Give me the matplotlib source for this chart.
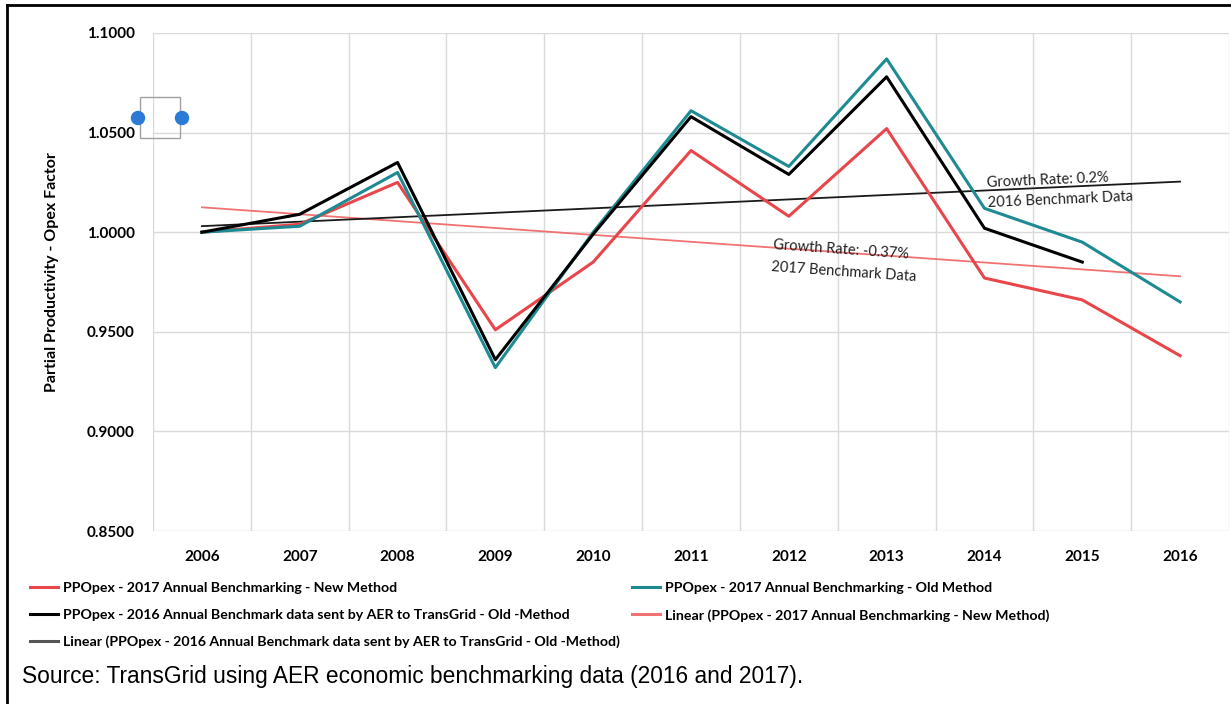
import numpy as np
import matplotlib.pyplot as plt
from matplotlib.lines import Line2D
from matplotlib.patches import Rectangle, Ellipse

plt.rcParams['font.family'] = ['Lato', 'DejaVu Sans']

years = ['2006', '2007', '2008', '2009', '2010', '2011', '2012', '2013', '2014', '2015', '2016']
new_2017 = [1.000, 1.004, 1.025, 0.951, 0.985, 1.041, 1.008, 1.052, 0.977, 0.966, 0.938]
old_2017 = [1.000, 1.003, 1.030, 0.932, 1.000, 1.061, 1.033, 1.087, 1.012, 0.995, 0.965]
old_2016 = [1.000, 1.009, 1.035, 0.936, 0.999, 1.058, 1.029, 1.078, 1.002, 0.985]

lbl_new = 'PPOpex - 2017 Annual Benchmarking - New Method'
lbl_old = 'PPOpex - 2017 Annual Benchmarking - Old Method'
lbl_2016 = 'PPOpex - 2016 Annual Benchmark data sent by AER to TransGrid - Old -Method'
lbl_lin_new = 'Linear (PPOpex - 2017 Annual Benchmarking - New Method)'
lbl_lin_2016 = 'Linear (PPOpex - 2016 Annual Benchmark data sent by AER to TransGrid - Old -Method)'

RED = '#E8464A'
TEAL = '#1E8A92'
LRED = '#F07272'

W, H = 1231, 704
fig = plt.figure(figsize=(W / 100, H / 100), dpi=100)
ax = fig.add_axes([153 / W, 1 - 531 / H, (1229 - 153) / W, (531 - 33) / H])

x = np.arange(len(years))
x16 = np.arange(len(old_2016))

# excel style linear trendlines (2016 one forecast forward to 2016)
p_new = np.polyfit(x, new_2017, 1)
p_16 = np.polyfit(x16, old_2016, 1)
ax.plot(x, np.polyval(p_new, x), color=LRED, lw=1.3, zorder=3)
ax.plot(x, np.polyval(p_16, x), color='#1a1a1a', lw=1.3, zorder=3)

ax.plot(x, new_2017, color=RED, lw=2.2, zorder=4)
ax.plot(x, old_2017, color=TEAL, lw=2.2, zorder=4)
ax.plot(x16, old_2016, color='black', lw=2.2, zorder=5)

ax.set_xlim(-0.5, len(years) - 0.5)
ax.set_ylim(0.85, 1.10)
ax.set_yticks(np.arange(0.85, 1.1001, 0.05))
ax.set_yticklabels(['%.4f' % v for v in np.arange(0.85, 1.1001, 0.05)],
                   fontsize=11, fontweight='bold')
ax.set_xticks(x)
ax.set_xticklabels(years, fontsize=11, fontweight='bold')
ax.set_xticks(np.arange(-0.5, len(years)), minor=True)
ax.tick_params(axis='both', which='both', length=0)
ax.tick_params(axis='y', pad=13)
ax.tick_params(axis='x', pad=14)
ax.grid(axis='y', which='major', color='#DADADA', lw=1)
ax.grid(axis='x', which='minor', color='#DADADA', lw=1)
for s in ax.spines.values():
    s.set_visible(False)

ax.set_ylabel('Partial Productivity - Opex Factor', fontsize=11.5, fontweight='bold')
ax.yaxis.set_label_coords(-(153 - 59) / (1229 - 153), 0.52)

ax.text(8.03, 1.0197, 'Growth Rate: 0.2%\n2016 Benchmark Data', fontsize=10.5,
        rotation=2.5, rotation_mode='anchor', ha='left', va='center', linespacing=1.5, color='#222222')
ax.text(5.83, 0.9880, 'Growth Rate: -0.37%\n2017 Benchmark Data', fontsize=10.5,
        rotation=-4, rotation_mode='anchor', ha='left', va='center', linespacing=1.7, color='#222222')

h_new = Line2D([], [], color=RED, lw=2.2)
h_old = Line2D([], [], color=TEAL, lw=2.2)
h_16 = Line2D([], [], color='black', lw=2.2)
h_lnew = Line2D([], [], color=LRED, lw=2.2)
h_l16 = Line2D([], [], color='#555555', lw=2.2)

kw = dict(frameon=False, prop={'size': 10.2, 'weight': 'bold'}, handlelength=2.0,
          handletextpad=0.3, labelspacing=1.05, borderaxespad=0, borderpad=0, loc='upper left')
fig.legend([h_new, h_16, h_l16], [lbl_new, lbl_2016, lbl_lin_2016],
           bbox_to_anchor=(30 / W, 1 - 582 / H), **kw)
fig.legend([h_old, h_lnew], [lbl_old, lbl_lin_new],
           bbox_to_anchor=(632 / W, 1 - 582 / H), **kw)

fig.text(22 / W, 1 - 677 / H, 'Source: TransGrid using AER economic benchmarking data (2016 and 2017).',
         fontsize=16.4, family=['Liberation Sans', 'DejaVu Sans'], va='center', ha='left')

# selection handle artifact at top left
fig.add_artist(Rectangle((140 / W, 1 - 138 / H), 40 / W, 41 / H, transform=fig.transFigure,
                         fill=False, ec='#A0A0A0', lw=1))
for cx in (138, 182):
    fig.add_artist(Ellipse((cx / W, 1 - 118 / H), 13 / W, 13 / H, transform=fig.transFigure,
                           color='#2B7BD6'))

# page border (left and top)
fig.add_artist(Line2D([7 / W, 7 / W], [0, 1 - 5 / H], color='black', lw=2, transform=fig.transFigure))
fig.add_artist(Line2D([7 / W, 1], [1 - 5 / H, 1 - 5 / H], color='black', lw=2, transform=fig.transFigure))

fig.savefig('out.png', dpi=100)
